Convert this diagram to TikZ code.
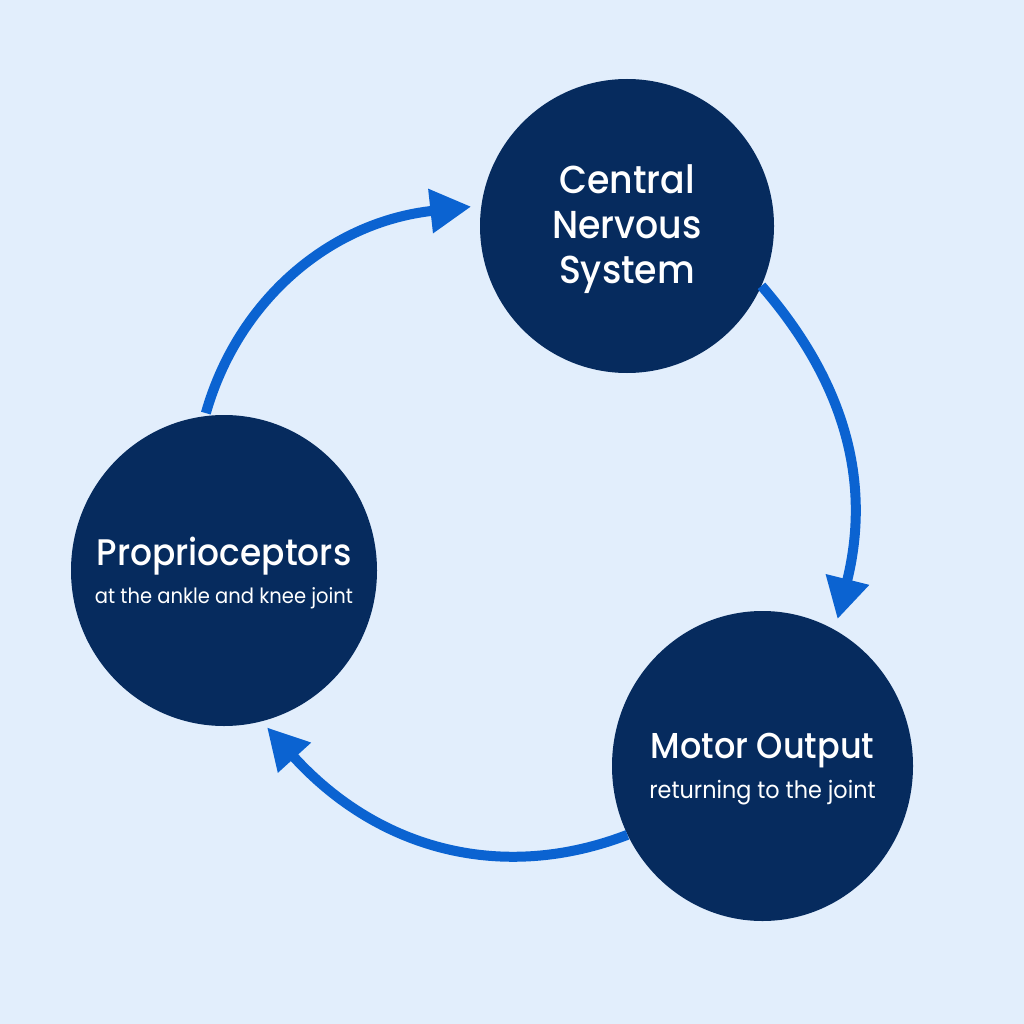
\documentclass[tikz,border=0pt]{standalone}
\usepackage{fontspec}
\setmainfont{Poppins}[FakeStretch=0.93]
\newfontfamily\medfont{Poppins Medium}[FakeStretch=0.93]
\usetikzlibrary{arrows.meta,shapes.geometric}
\definecolor{bgblue}{HTML}{E2EEFC}
\definecolor{navy}{HTML}{062B5E}
\definecolor{flow}{HTML}{0B63D1}
\newcommand{\zw}[1]{\makebox[0pt]{#1}}
\tikzset{
  stage/.style={ellipse,fill=navy,text=white,inner sep=0pt,align=center},
  flowline/.style={draw=flow,line width=10pt,-{Triangle[length=41pt,width=42pt]}},
}
\begin{document}
\begin{tikzpicture}[x=1pt,y=-1pt]
\fill[bgblue] (0,0) rectangle (1024,1024);
\useasboundingbox (0,0) rectangle (1024,1024);
\node[stage,minimum width=294pt,minimum height=294pt,font=\medfont\fontsize{39}{45}\selectfont] (cns) at (627,226) {\zw{\rule{0pt}{35pt}Central}\\\zw{Nervous}\\\zw{System}};
\node[stage,minimum width=306pt,minimum height=311pt] (prop) at (224,570.5) {\zw{\medfont\fontsize{37}{36}\selectfont\rule{0pt}{34pt}Proprioceptors}\\[11pt]\zw{\fontsize{21}{24}\selectfont at the ankle and knee joint}};
\node[stage,minimum width=301pt,minimum height=310pt] (motor) at (762.5,766) {\zw{\medfont\fontsize{36}{36}\selectfont\rule{0pt}{31pt}Motor Output}\\[11pt]\zw{\fontsize{24}{26}\selectfont returning to the joint}};
\draw[flowline,shorten <=3pt,shorten >=10pt] (prop.97) .. controls (238,300) and (330,222) .. (cns.172);
\draw[flowline,shorten >=11pt] (cns.-24) .. controls (864,404) and (865,509) .. (motor.62.6);
\draw[flowline,shorten >=8pt] (motor.207.6) .. controls (505,882) and (380,852) .. (prop.-76.2);
\end{tikzpicture}
\end{document}
